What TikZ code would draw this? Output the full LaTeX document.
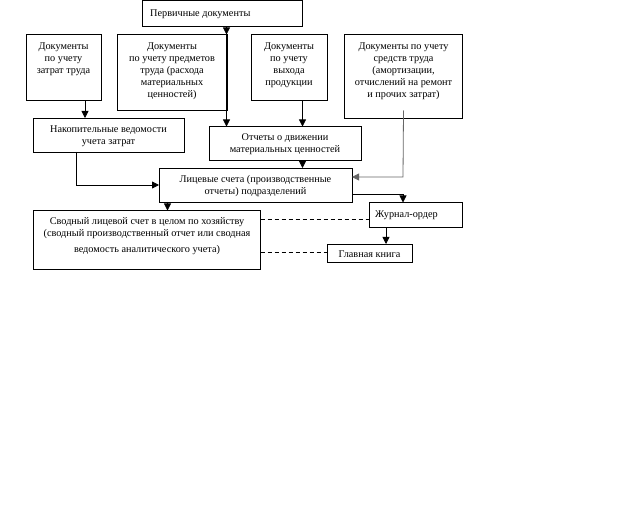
\documentclass[tikz,border=0pt]{standalone}
\usepackage{fontspec}
\setmainfont{Liberation Serif}
\usetikzlibrary{arrows.meta,calc}
\begin{document}
\begin{tikzpicture}[x=1bp,y=-1bp,
  box/.style={draw,line width=0.8bp,inner sep=0pt,outer sep=0pt,anchor=north west},
  txt/.style={inner sep=0pt,align=center,font=\fontsize{10.3}{12}\selectfont},
  arr/.style={line width=0.8bp,-{Triangle[width=7bp,length=7bp]}},
  ln/.style={line width=0.8bp},
  dsh/.style={line width=0.8bp,dash pattern=on 4bp off 3bp}]
\useasboundingbox (0,0) rectangle (640,512);
% boxes
\node[box,minimum width=160bp,minimum height=26bp] (p) at (142.5,0.5) {};
\node[txt,anchor=west] (pt) at (150,14.5) {Первичные документы};
\node[box,minimum width=75bp,minimum height=66bp] (b1) at (26,34.5) {};
\node[txt,anchor=north] (b1t) at ($(b1.north)+(0,8)$) {Документы\\по учету\\затрат труда};
\node[box,minimum width=110bp,minimum height=76bp] (b2) at (117,34.5) {};
\node[txt,anchor=north] (b2t) at ($(b2.north)+(0,8)$) {Документы\\по учету предметов\\труда (расхода\\материальных\\ценностей)};
\node[box,minimum width=76bp,minimum height=66bp] (b3) at (251,34.5) {};
\node[txt,anchor=north] (b3t) at ($(b3.north)+(0,8)$) {Документы\\по учету\\выхода\\продукции};
\node[box,minimum width=118bp,minimum height=84bp] (b4) at (344.5,34.5) {};
\node[txt,anchor=north] (b4t) at ($(b4.north)+(0,8)$) {Документы по учету\\средств труда\\(амортизации,\\отчислений на ремонт\\и прочих затрат)};
\node[box,minimum width=151bp,minimum height=34bp] (n) at (33,118) {};
\node[txt] (nt) at ($(n.center)+(0,1)$) {Накопительные ведомости\\учета затрат};
\node[box,minimum width=152bp,minimum height=34bp] (o) at (209,126.5) {};
\node[txt] (ot) at ($(o.center)+(0,1)$) {Отчеты о движении\\материальных ценностей};
\node[box,minimum width=193bp,minimum height=34bp] (l) at (159,168) {};
\node[txt] (lt) at ($(l.center)+(0,1.5)$) {Лицевые счета (производственные\\отчеты) подразделений};
\node[box,minimum width=227bp,minimum height=59bp] (s) at (33.5,210.5) {};
\node[txt,anchor=north] (st) at ($(s.north)+(0,7)$) {Сводный лицевой счет в целом по хозяйству\\(сводный производственный отчет или сводная\\[4bp]ведомость аналитического учета)};
\node[box,minimum width=93bp,minimum height=25bp] (j) at (369,202.5) {};
\node[txt,anchor=west] (jt) at (375,215.5) {Журнал-ордер};
\node[box,minimum width=85bp,minimum height=18bp] (g) at (327,244) {};
\node[txt] (gt) at ($(g.center)+(0,1.5)$) {Главная книга};
% connectors
\coordinate (c1) at (226.5,34.5);
\draw[arr] (p.south -| c1) -- (c1);
\draw[arr] (c1) -- (o.north -| c1);
\draw[arr] (b1.south -| 85,0) -- (n.north -| 85,0);
\draw[arr] (b3.south -| 302.5,0) -- (o.north -| 302.5,0);
\coordinate (c4) at (403,177);
\draw[arr,draw=black!60] ($(b4.south)+(0,-8)$) -- (c4) -- (l.east |- c4);
\coordinate (c5) at (76,185);
\draw[arr] (n.south -| c5) -- (c5) -- (l.west |- c5);
\draw[arr] (o.south -| 302.5,0) -- (l.north -| 302.5,0);
\draw[arr] (l.south -| 167.5,0) -- (s.north -| 167.5,0);
\coordinate (c6) at (403,194);
\draw[arr] (l.east |- c6) -- (c6) -- (j.north -| c6);
\draw[arr] (j.south -| 386,0) -- (g.north -| 386,0);
\draw[dsh] (s.east |- 0,219) -- (j.west |- 0,219);
\draw[dsh] (s.east |- 0,252.5) -- (g.west |- 0,252.5);
\end{tikzpicture}
\end{document}
